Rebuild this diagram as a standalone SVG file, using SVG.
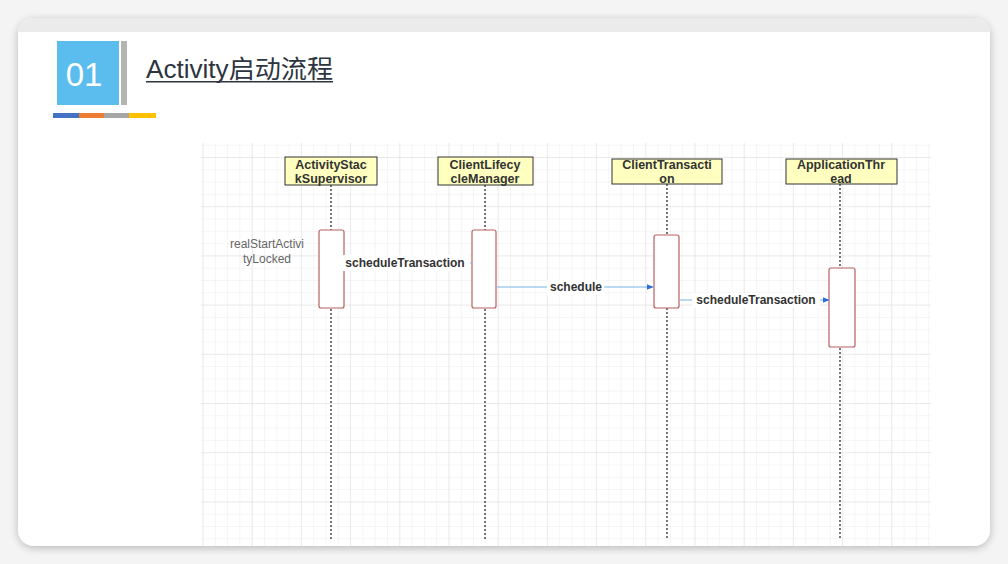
<svg xmlns="http://www.w3.org/2000/svg" width="1008" height="564" viewBox="0 0 1008 564">
<defs>
<pattern id="minor" width="12.3" height="12.3" patternUnits="userSpaceOnUse" x="202.5" y="157">
<path d="M0 0H12.3M0 0V12.3" fill="none" stroke="#ececec" stroke-width="1"/>
</pattern>
<pattern id="major" width="49.2" height="49.2" patternUnits="userSpaceOnUse" x="202.5" y="157">
<path d="M0 0H49.2M0 0V49.2" fill="none" stroke="#e0e0e0" stroke-width="1"/>
</pattern>
<filter id="sh" x="-5%" y="-5%" width="110%" height="110%">
<feGaussianBlur in="SourceAlpha" stdDeviation="4"/>
<feOffset dy="2"/>
<feComponentTransfer><feFuncA type="linear" slope="0.25"/></feComponentTransfer>
<feMerge><feMergeNode/><feMergeNode in="SourceGraphic"/></feMerge>
</filter>
<clipPath id="card"><rect x="18" y="18" width="972" height="528" rx="16"/></clipPath>
<marker id="arr" viewBox="0 0 10 10" refX="9" refY="5" markerWidth="7" markerHeight="7" orient="auto" markerUnits="userSpaceOnUse">
<path d="M0 1L10 5L0 9Z" fill="#2f6fd6"/>
</marker>
<style>
.hdr{fill:#ffffc0;stroke:#333;stroke-width:1}
.hdrt{font-family:"Liberation Sans",Arial,sans-serif;font-weight:bold;font-size:12.5px;fill:#333;text-anchor:middle}
.life{stroke:#555;stroke-width:1.6;stroke-dasharray:2 2;fill:none}
.act{fill:#fff;stroke:#b86060;stroke-width:1.2}
.msg{stroke:#7bb3e8;stroke-width:1.2;fill:none}
.msgt{font-family:"Liberation Sans",Arial,sans-serif;font-weight:bold;font-size:12px;fill:#333;text-anchor:middle}
</style>
</defs>
<rect width="1008" height="564" fill="#f4f4f4"/>
<rect x="18" y="18" width="972" height="528" rx="16" fill="#fff" filter="url(#sh)"/>
<g clip-path="url(#card)">
<rect x="18" y="18" width="972" height="14" fill="#ebebeb"/>
<rect x="201" y="143" width="730" height="403" fill="#fff"/>
<rect x="201" y="143" width="730" height="403" fill="url(#minor)"/>
<rect x="201" y="143" width="730" height="403" fill="url(#major)"/>
</g>
<g id="title">
<rect x="57" y="41" width="62" height="64" fill="#5bbcee"/>
<rect x="121" y="41" width="6" height="64" fill="#b4b4b4"/>
<text x="84" y="86" font-family="Liberation Sans,Arial,sans-serif" font-size="33" fill="#fff" text-anchor="middle">01</text>
<rect x="53" y="113" width="26" height="5" fill="#4472c4"/>
<rect x="79" y="113" width="25" height="5" fill="#ed7d31"/>
<rect x="104" y="113" width="25" height="5" fill="#a5a5a5"/>
<rect x="129" y="113" width="27" height="5" fill="#ffc000"/>
<text x="146" y="78" font-family="Liberation Sans,'Noto Sans CJK SC',sans-serif" font-size="25" fill="#2d3540" textLength="187" lengthAdjust="spacingAndGlyphs">Activity启动流程</text>
<rect x="146" y="81" width="187" height="1.5" fill="#2d3540"/>
</g>
<g id="lifelines">
<path class="life" d="M331 185V540M485 185V540M667 184V540M840 184V540"/>
</g>
<g id="ActivityStackSupervisor">
<rect class="hdr" x="285" y="157" width="92" height="28"/>
<text class="hdrt" x="331" y="169">ActivityStac</text>
<text class="hdrt" x="331" y="183">kSupervisor</text>
<rect class="act" x="319" y="230" width="25" height="78" rx="2"/>
<text x="267" y="248" font-family="Liberation Sans,Arial,sans-serif" font-size="12" fill="#666" text-anchor="middle">realStartActivi</text>
<text x="267" y="263" font-family="Liberation Sans,Arial,sans-serif" font-size="12" fill="#666" text-anchor="middle">tyLocked</text>
</g>
<g id="ClientLifecycleManager">
<rect class="hdr" x="438" y="157" width="95" height="28"/>
<text class="hdrt" x="485" y="169">ClientLifecy</text>
<text class="hdrt" x="485" y="183">cleManager</text>
<rect class="act" x="472" y="230" width="24" height="78" rx="2"/>
</g>
<g id="ClientTransaction">
<rect class="hdr" x="612" y="159" width="110" height="25"/>
<text class="hdrt" x="667" y="169">ClientTransacti</text>
<text class="hdrt" x="667" y="183">on</text>
<rect class="act" x="654" y="235" width="25" height="73" rx="2"/>
</g>
<g id="ApplicationThread">
<rect class="hdr" x="786" y="159" width="111" height="25"/>
<text class="hdrt" x="841" y="169">ApplicationThr</text>
<text class="hdrt" x="841" y="183">ead</text>
<rect class="act" x="829" y="268" width="26" height="79" rx="2"/>
</g>
<g id="connectors">
<line class="msg" x1="344" y1="263" x2="472" y2="263"/>
<rect x="343" y="255" width="127" height="16" fill="#fff"/>
<text class="msgt" x="405" y="267">scheduleTransaction</text>
<line class="msg" x1="497" y1="287" x2="653" y2="287" marker-end="url(#arr)"/>
<rect x="547" y="280" width="57" height="15" fill="#fff"/>
<text class="msgt" x="576" y="291">schedule</text>
<line class="msg" x1="680" y1="300" x2="829" y2="300" marker-end="url(#arr)"/>
<rect x="692" y="293" width="128" height="15" fill="#fff"/>
<text class="msgt" x="756" y="304">scheduleTransaction</text>
</g>
</svg>
